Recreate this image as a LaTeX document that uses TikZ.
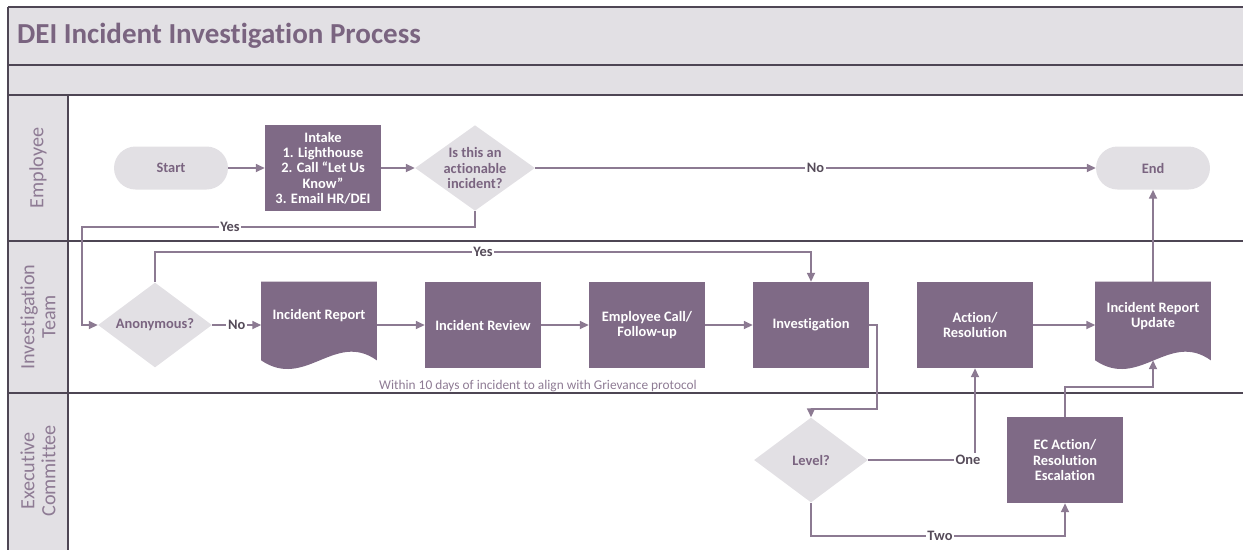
\documentclass[tikz,border=0pt]{standalone}
\usepackage{fontspec}
\setmainfont{Carlito}[Ligatures=NoCommon]
\usepackage{tikz}
\usetikzlibrary{arrows.meta,shapes.geometric,backgrounds}

\definecolor{boxpurple}{HTML}{7F6A86}
\definecolor{shapegrey}{HTML}{E2E0E4}
\definecolor{textpurple}{HTML}{7A6480}
\definecolor{flowline}{HTML}{8C7A92}
\definecolor{lanedark}{HTML}{4E4654}
\definecolor{lanetext}{HTML}{8E7B94}
\definecolor{labelgrey}{HTML}{554B59}

\newcommand\nodefont{\bfseries\fontsize{8.2}{8.7}\selectfont}
\newcommand\lanefont{\fontsize{11.5}{12}\selectfont}

\tikzset{
	laneline/.style={draw=lanedark,line width=0.8pt},
	flow/.style={draw=flowline,line width=0.8pt,-{Triangle[length=5pt,width=4.6pt]}},
	procbox/.style={fill=boxpurple,text=white,font=\nodefont,align=center,minimum width=2.32cm,minimum height=1.72cm,inner sep=1pt},
	termbox/.style={fill=shapegrey,text=textpurple,font=\nodefont,rounded corners=0.43cm,minimum width=2.28cm,minimum height=0.86cm},
	decbox/.style={diamond,aspect=1.4,fill=shapegrey,text=textpurple,font=\nodefont,align=center,minimum width=2.28cm,minimum height=1.7cm,inner sep=0pt},
	doctext/.style={text=white,font=\nodefont,align=center,minimum width=2.3cm,minimum height=1.36cm,inner sep=1pt},
	flowlabel/.style={fill=white,text=labelgrey,font=\nodefont,inner sep=1pt},
	lanetitle/.style={rotate=90,text=lanetext,font=\lanefont,align=center},
}

% document shape with a wavy bottom, behind the text node
\newcommand\docwave[1]{%
	\begin{scope}[on background layer]
		\fill[boxpurple] (#1.north west) -- (#1.north east) -- ([shift={(0,10)}]#1.south east)
			.. controls ([shift={(-42,-20)}]#1.south east) and ([shift={(44,40)}]#1.south west) .. ([shift={(0,10)}]#1.south west) -- cycle;
	\end{scope}}

\begin{document}
\begin{tikzpicture}[x=0.02cm,y=-0.02cm]
	\clip (0,0) rectangle (1243,549);
	% pool and lanes
	\fill[shapegrey] (8,7) rectangle (1260,95);
	\fill[shapegrey] (8,95) rectangle (68,560);
	\draw[laneline] (8,7) -- (1260,7);
	\draw[laneline] (8,65) -- (1260,65);
	\draw[laneline] (8,95) -- (1260,95);
	\draw[laneline] (8,241) -- (1260,241);
	\draw[laneline] (8,393) -- (1260,393);
	\draw[laneline] (8,7) -- (8,560);
	\draw[laneline] (68,95) -- (68,560);
	\node[anchor=west,text=textpurple,font=\bfseries\fontsize{16.5}{18}\selectfont] (title) at (11,36) {DEI Incident Investigation Process};
	\node[lanetitle] (laneemp) at (38,168) {Employee};
	\node[lanetitle] (laneinv) at (38,317) {Investigation\\Team};
	\node[lanetitle] (laneexec) at (38,471) {Executive\\Committee};

	% employee lane
	\node[termbox] (start) at (171,168) {Start};
	\node[procbox] (intake) at (323,168) {Intake\\1. Lighthouse\\2. Call “Let Us\\Know”\\3. Email HR/DEI};
	\node[decbox] (action) at (475,168) {Is this an\\actionable\\incident?};
	\node[termbox] (end) at (1153,168) {End};

	% investigation team lane
	\node[decbox] (anon) at (155,325) {Anonymous?};
	\node[doctext] (report) at (319,316) {Incident Report};
	\docwave{report}
	\node[procbox] (review) at (483,325) {Incident Review};
	\node[procbox] (call) at (647,325) {Employee Call/\\Follow-up};
	\node[procbox] (invest) at (811,325) {Investigation};
	\node[procbox] (resol) at (975,325) {Action/\\Resolution};
	\node[doctext] (update) at (1153,316) {Incident Report\\Update};
	\docwave{update}
	\node[text=lanetext,font=\fontsize{7.6}{8}\selectfont] (note) at (538,386) {Within 10 days of incident to align with Grievance protocol};

	% executive committee lane
	\node[decbox] (level) at (811,460) {Level?};
	\node[procbox] (ecact) at (1065,460) {EC Action/\\Resolution\\Escalation};

	% connectors
	\draw[flow] (start) -- (intake);
	\draw[flow] (intake) -- (action);
	\draw[flow] (action.east) -- node[flowlabel] (lno) {No} (end.west);
	\draw[flow] (action.south) -- (475,227) -- (82,227) -- (82,325) -- (anon.west);
	\node[flowlabel] (lyes) at (230,227) {Yes};
	\draw[flow] (anon.north) -- (155,252) -- (811,252) -- (invest.north);
	\node[flowlabel] (lyes2) at (483,252) {Yes};
	\draw[flow] (anon.east) -- node[flowlabel] (lno2) {No} (anon.east -| report.west);
	\draw[flow] (review.west -| report.east) -- (review.west);
	\draw[flow] (review) -- (call);
	\draw[flow] (call) -- (invest);
	\draw[flow] (invest.east) -- (877,325) -- (877,409) -- (811,409) -- (level.north);
	\draw[flow] (level.east) -- (975,460) -- (resol.south);
	\node[flowlabel] (lone) at (968,460) {One};
	\draw[flow] (level.south) -- (811,536) -- (1065,536) -- (ecact.south);
	\node[flowlabel] (ltwo) at (940,536) {Two};
	\draw[flow] (ecact.north) -- (1065,387) -- (1153,387) -- ([shift={(0,10)}]update.south);
	\draw[flow] (resol.east) -- (resol.east -| update.west);
	\draw[flow] (update.north) -- (end.south);
\end{tikzpicture}
\end{document}
